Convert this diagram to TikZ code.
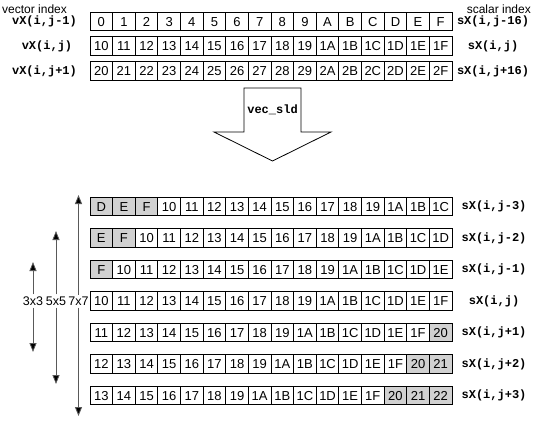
\documentclass[tikz,border=0pt]{standalone}
\usepackage{fontspec}
\setmainfont{Liberation Sans}
\setmonofont{Liberation Mono}
\usetikzlibrary{arrows.meta}
\begin{document}
\begin{tikzpicture}[x=1pt,y=-1pt,
  cell/.style={draw=black,line width=0.8pt,minimum width=22.625pt,minimum height=18.5pt,inner sep=0pt,text height=9.3pt,text depth=0pt,font=\fontsize{13}{13}\selectfont},
  cw/.style={fill=white},
  cg/.style={fill=gray!36},
  lab/.style={font=\fontsize{12}{12}\selectfont\ttfamily\bfseries,inner sep=0pt},
  captxt/.style={font=\fontsize{12}{12}\selectfont,inner sep=0pt},
  wtxt/.style={font=\fontsize{12.5}{12.5}\selectfont,inner sep=0pt},
  varr/.style={draw=black!65,line width=0.8pt,-{Triangle[width=7pt,length=9pt,fill=black]}}]
\useasboundingbox (0,0) rectangle (534,425);
\newcommand\cellrow[3]{%
  \foreach \t/\f [count=\i from 0] in {#3}{%
    \node[cell,c\f] (#1c\i) at ({90+22.625*(\i+0.5)},#2) {\t};}}
% captions
\node[captxt,anchor=base west] (vi) at (2,13.5) {vector index};
\node[captxt,anchor=base east] (si) at (531,13.5) {scalar index};
% top rows
\cellrow{ta}{21.5}{0/w,1/w,2/w,3/w,4/w,5/w,6/w,7/w,8/w,9/w,A/w,B/w,C/w,D/w,E/w,F/w}
\cellrow{tb}{46}{10/w,11/w,12/w,13/w,14/w,15/w,16/w,17/w,18/w,19/w,1A/w,1B/w,1C/w,1D/w,1E/w,1F/w}
\cellrow{tc}{71}{20/w,21/w,22/w,23/w,24/w,25/w,26/w,27/w,28/w,29/w,2A/w,2B/w,2C/w,2D/w,2E/w,2F/w}
\node[lab] (la) at (44.5,21.5) {vX(i,j-1)};
\node[lab] (lb) at (47,46) {vX(i,j)};
\node[lab] (lc) at (44.5,71) {vX(i,j+1)};
\node[lab] (ra) at (493,21.5) {sX(i,j-16)};
\node[lab] (rb) at (493,46) {sX(i,j)};
\node[lab] (rc) at (493,71) {sX(i,j+16)};
% big arrow
\draw[line width=0.8pt,fill=white] (244,88) -- (301,88) -- (301,132) -- (331,132) -- (272.5,161) -- (214,132) -- (244,132) -- cycle;
\node[lab] (vs) at (272.5,110) {vec\_sld};
% bottom rows
\cellrow{ba}{206.5}{D/g,E/g,F/g,10/w,11/w,12/w,13/w,14/w,15/w,16/w,17/w,18/w,19/w,1A/w,1B/w,1C/w}
\cellrow{bb}{238}{E/g,F/g,10/w,11/w,12/w,13/w,14/w,15/w,16/w,17/w,18/w,19/w,1A/w,1B/w,1C/w,1D/w}
\cellrow{bc}{269.5}{F/g,10/w,11/w,12/w,13/w,14/w,15/w,16/w,17/w,18/w,19/w,1A/w,1B/w,1C/w,1D/w,1E/w}
\cellrow{bd}{301}{10/w,11/w,12/w,13/w,14/w,15/w,16/w,17/w,18/w,19/w,1A/w,1B/w,1C/w,1D/w,1E/w,1F/w}
\cellrow{be}{332.5}{11/w,12/w,13/w,14/w,15/w,16/w,17/w,18/w,19/w,1A/w,1B/w,1C/w,1D/w,1E/w,1F/w,20/g}
\cellrow{bf}{364}{12/w,13/w,14/w,15/w,16/w,17/w,18/w,19/w,1A/w,1B/w,1C/w,1D/w,1E/w,1F/w,20/g,21/g}
\cellrow{bg}{395.5}{13/w,14/w,15/w,16/w,17/w,18/w,19/w,1A/w,1B/w,1C/w,1D/w,1E/w,1F/w,20/g,21/g,22/g}
\node[lab] (sa) at (494,206.5) {sX(i,j-3)};
\node[lab] (sb) at (494,238) {sX(i,j-2)};
\node[lab] (sc) at (494,269.5) {sX(i,j-1)};
\node[lab] (sd) at (494,301) {sX(i,j)};
\node[lab] (se) at (494,332.5) {sX(i,j+1)};
\node[lab] (sf) at (494,364) {sX(i,j+2)};
\node[lab] (sg) at (494,395.5) {sX(i,j+3)};
% window sizes
\node[wtxt] (w3) at (33,301) {3x3};
\node[wtxt] (w5) at (56,301) {5x5};
\node[wtxt] (w7) at (78.5,301) {7x7};
\coordinate (u3) at (33,262); \coordinate (d3) at (33,352);
\coordinate (u5) at (56,231); \coordinate (d5) at (56,384);
\coordinate (u7) at (78.5,195); \coordinate (d7) at (78.5,416);
\draw[varr] (w3.north) ++(0,-2) -- (u3);
\draw[varr] (w3.south) ++(0,2) -- (d3);
\draw[varr] (w5.north) ++(0,-2) -- (u5);
\draw[varr] (w5.south) ++(0,2) -- (d5);
\draw[varr] (w7.north) ++(0,-2) -- (u7);
\draw[varr] (w7.south) ++(0,2) -- (d7);
\end{tikzpicture}
\end{document}
